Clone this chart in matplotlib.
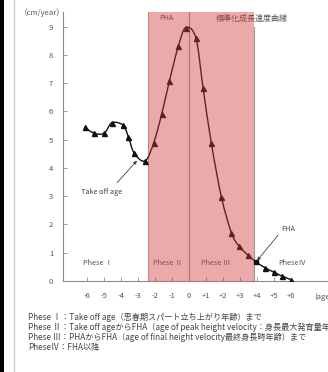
import matplotlib
matplotlib.use("Agg")
import matplotlib.pyplot as plt
import numpy as np
from matplotlib.path import Path
from matplotlib.patches import PathPatch, Rectangle
from matplotlib.lines import Line2D

plt.rcParams['font.family'] = ['Noto Sans CJK JP', 'DejaVu Sans']

# ---- data ----
ages = [-6.14, -5.57, -4.98, -4.53, -3.88, -3.56, -3.21, -2.57, -2.06, -1.60, -1.14,
        -0.62, -0.18, 0.42, 0.84, 1.33, 1.92, 2.51, 2.95, 3.48, 3.95, 4.49, 5.02, 5.47, 6.05]
vals = [5.44, 5.23, 5.23, 5.60, 5.52, 5.11, 4.52, 4.25, 4.90, 5.90, 7.08,
        8.30, 8.97, 8.60, 6.84, 4.87, 2.98, 1.71, 1.24, 0.92, 0.68, 0.47, 0.31, 0.18, 0.04]
fha_age, fha_val = 3.95, 0.68
take_off_age = -2.41
pha_age = 0.0
fha_bound = 3.83
xticks = [-6, -5, -4, -3, -2, -1, 0, 1, 2, 3, 4, 5, 6]
xticklabels = ['-6', '-5', '-4', '-3', '-2', '-1', '0', '+1', '+2', '+3', '+4', '+5', '+6']
yticks = [0, 1, 2, 3, 4, 5, 6, 7, 8, 9]
phase_labels = ['Phese Ⅰ', 'Phese Ⅱ', 'Phese Ⅲ', 'PheseⅣ']
notes = [
    'Phese Ⅰ：Take off age（思春期スパート立ち上がり年齢）まで',
    'Phese Ⅱ：Take off ageからFHA（age of peak height velocity：身長最大発育量年齢）まで',
    'Phese Ⅲ：PHAからFHA（age of final height velocity最終身長時年齢）まで',
    'PheseⅣ：FHA以降',
]

fig = plt.figure(figsize=(3.28, 3.72), dpi=100)
ax = fig.add_axes([0.192, 0.2446, 0.808, 0.7231])
ax.set_xlim(-7.41, 8.2)
ax.set_ylim(0, 9.52)

gray = '#8a8a8a'
for s in ['top', 'right']:
    ax.spines[s].set_visible(False)
for s in ['left', 'bottom']:
    ax.spines[s].set_color(gray)
    ax.spines[s].set_linewidth(0.8)

ax.set_xticks(xticks)
ax.set_xticklabels(xticklabels)
ax.set_yticks(yticks)
ax.tick_params(direction='in', length=3, width=0.6, color=gray, labelsize=5.5,
               labelcolor='#555555')
ax.tick_params(axis='y', pad=7)
ax.tick_params(axis='x', pad=8)

# smooth curve through the points (Catmull-Rom -> cubic Bezier)
P = np.column_stack([ages, vals])
verts = [tuple(P[0])]
codes = [Path.MOVETO]
n = len(P)
for i in range(n - 1):
    p0 = P[i - 1] if i > 0 else P[i]
    p1 = P[i]
    p2 = P[i + 1]
    p3 = P[i + 2] if i + 2 < n else P[i + 1]
    c1 = p1 + (p2 - p0) / 6.0
    c2 = p2 - (p3 - p1) / 6.0
    verts += [tuple(c1), tuple(c2), tuple(p2)]
    codes += [Path.CURVE4, Path.CURVE4, Path.CURVE4]
ax.add_patch(PathPatch(Path(verts, codes), fill=False, edgecolor='#111111', lw=1.0, zorder=3))

mk_a = [a for a in ages if a != fha_age]
mk_v = [v for a, v in zip(ages, vals) if a != fha_age]
ax.plot(mk_a, mk_v, ls='none', marker='^', ms=3.6, color='#111111', zorder=4)
ax.plot([fha_age], [fha_val], ls='none', marker='s', ms=3.2, color='#111111', zorder=4)

# boundary lines
ax.axvline(pha_age, color='#999999', lw=0.8, zorder=2)
ax.axvline(take_off_age, color='#aaaaaa', lw=0.6, zorder=2)
ax.plot([fha_bound, fha_bound], [0, 9.0], color='#999999', lw=0.8, zorder=2)

# texts
tc = '#555555'
ax.text(-1.31, 9.31, 'PHA', fontsize=5.2, color=tc, ha='center', va='center', zorder=2)
ax.text(3.72, 9.31, '標準化成長速度曲線', fontsize=5.8, color=tc, ha='center', va='center', zorder=2)
ax.text(-5.14, 3.15, 'Take off age', fontsize=5.3, color='#444444', ha='center', va='center', zorder=2)
ax.annotate('', xy=(-3.05, 4.26), xytext=(-4.22, 3.48),
            arrowprops=dict(arrowstyle='-|>', color='#444444', lw=0.6,
                            mutation_scale=5, shrinkA=0, shrinkB=0), zorder=2)
ax.text(5.85, 1.84, 'FHA', fontsize=5.3, color='#444444', ha='center', va='center', zorder=2)
ax.annotate('', xy=(4.02, 0.72), xytext=(5.27, 1.63),
            arrowprops=dict(arrowstyle='-|>', color='#444444', lw=0.6,
                            mutation_scale=5, shrinkA=0, shrinkB=0), zorder=2)
for lab, x in zip(phase_labels, [-5.35, -1.26, 1.57, 6.08]):
    ax.text(x, 0.65, lab, fontsize=5.3, color='#555555', ha='center', va='center', zorder=2)

ax.text(7.4, -0.44, '(age)', fontsize=5.5, color='#555555', ha='left', va='top',
        clip_on=False)

# pink overlay band
ax.axvspan(take_off_age, fha_bound, ymin=0, ymax=1, facecolor=(209/255, 58/255, 58/255),
           alpha=0.43, lw=0, zorder=5)

fig.text(20/328, 0.965, '（cm/year）', fontsize=5.5, color='#555555', ha='left', va='center')

for i, line in enumerate(notes):
    fig.text(28/328, (372 - (317.7 + 10 * i)) / 372, line, fontsize=5.9, color='#444444',
             ha='left', va='center')

# page decoration on the left
fig.patches.append(Rectangle((0, 0), 3.5/328, 1, transform=fig.transFigure,
                             facecolor='black', edgecolor='none'))
fig.lines.append(Line2D([13.5/328, 13.5/328], [0, 1], transform=fig.transFigure,
                        color='#cccccc', lw=1.0))

fig.savefig('out.png', dpi=100)
